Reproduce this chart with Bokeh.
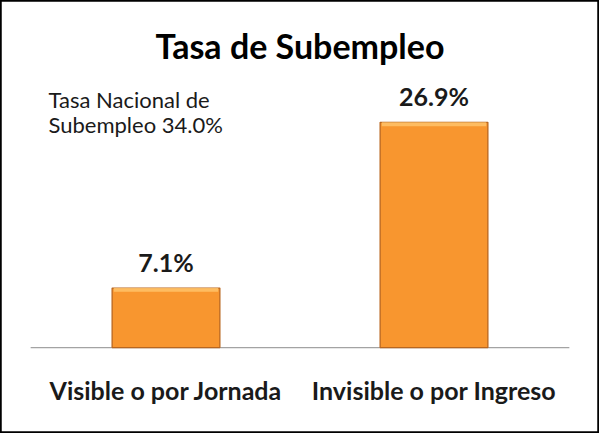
from bokeh.plotting import figure
from bokeh.models import Range1d, ColumnDataSource
from bokeh.core.properties import value
from bokeh.embed import file_html
from bokeh.resources import INLINE

# ---- data ----
categories = ["Visible o por Jornada", "Invisible o por Ingreso"]
rates = [7.1, 26.9]
title_text = "Tasa de Subempleo"
note_lines = ["Tasa Nacional de", "Subempleo  34.0%"]

FONT = "Lato"

xs = list(range(len(categories)))
src = ColumnDataSource(dict(
    x=xs,
    top=rates,
    hl_bottom=[v - 0.45 for v in rates],
    cat=categories,
    lab=[f"{v:.1f}%" for v in rates],
))

p = figure(width=599, height=433, output_backend="svg", toolbar_location=None,
           x_range=Range1d(-0.6175, 1.6175), y_range=Range1d(-10.27, 41.46),
           min_border=0, min_border_left=0, min_border_right=0,
           min_border_top=0, min_border_bottom=0)
p.axis.visible = False
p.grid.visible = False
p.outline_line_color = "black"
p.outline_line_width = 2.5
p.background_fill_color = "white"
p.border_fill_color = "white"

# baseline
p.segment(x0=[-0.505], y0=[0], x1=[1.505], y1=[0], line_color="#a3a3a3", line_width=1.3)

# bars
p.vbar(x="x", top="top", bottom=0, width=0.402, source=src,
       fill_color="#F8962F", line_color="#B9661E", line_width=1.3)
# top bevel highlight
p.vbar(x="x", top="top", bottom="hl_bottom", width=0.39, source=src,
       fill_color="#FFC36A", fill_alpha=0.85, line_color=None)

# value labels
p.text(x="x", y="top", text="lab", source=src, text_align="center", text_baseline="alphabetic",
       y_offset=-26, text_font=value(FONT), text_font_style="bold", text_font_size="25px",
       text_color="#1a1a1a")

# category labels
p.text(x="x", y=-5.13, text="cat", source=src, text_align="center", text_baseline="alphabetic",
       text_font=value(FONT), text_font_style="bold", text_font_size="25px", text_color="#1a1a1a")

# title
p.text(x=[0.5], y=[36.09], text=[title_text], text_align="center", text_baseline="alphabetic",
       text_font=value(FONT), text_font_style="bold", text_font_size="34px", text_color="black")

# national rate note
p.text(x=[-0.4384, -0.4384], y=[29.63, 26.65], text=note_lines, text_align="left",
       text_baseline="alphabetic", text_font=value(FONT), text_font_size="22px",
       text_color="#1a1a1a")

open("out.html", "w").write(file_html(p, INLINE))
